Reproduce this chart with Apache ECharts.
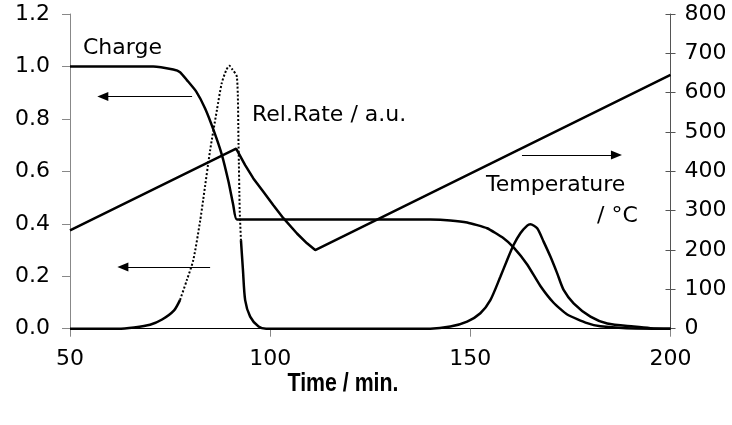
<!DOCTYPE html>
<html><head><meta charset="utf-8">
<script src="https://cdn.jsdelivr.net/npm/echarts@6.0.0/dist/echarts.min.js"></script>
<style>html,body{margin:0;padding:0;background:#fff}#c{width:732px;height:425px}</style>
</head><body><div id="c"></div>
<script>
// Time axis ticks (min.)
const timeTicks = [50, 100, 150, 200];
// Charge (left axis): [time, relative charge]
const chargeData = [[50,1.0],[70.8,1.0],[75.8,0.988],[77.5,0.978],[79.2,0.948],[81.5,0.905],[83.75,0.84],[85.8,0.76],[87.9,0.665],[89.6,0.56],[90.8,0.47],[91.7,0.416],[140,0.416],[145,0.413],[149.2,0.405],[154.2,0.383],[158.3,0.345],[160.8,0.31],[164.2,0.245],[167.5,0.163],[170.8,0.099],[174.2,0.054],[179.2,0.021],[182.5,0.009],[189,0.002],[200,0]];
// Relative rate (left axis): [time, rate]
const rateData = [[50,0],[62,0],[66,0.005],[70,0.015],[73,0.035],[76,0.07],[77.5,0.11],[79.2,0.186],[80.8,0.262],[82.5,0.41],[83.3,0.495],[85,0.68],[86.7,0.834],[87.9,0.936],[89,0.985],[89.8,1.003],[90.5,0.99],[91.7,0.96],[92.1,0.7],[92.4,0.45],[92.7,0.338],[93.2,0.224],[93.75,0.109],[95,0.046],[97.1,0.008],[99,0],[140,0],[145,0.008],[149.2,0.027],[152.5,0.059],[155,0.109],[157.5,0.198],[159.2,0.262],[160.8,0.319],[162.5,0.364],[164.2,0.393],[165,0.398],[166.7,0.383],[168.3,0.332],[170,0.275],[171.7,0.211],[173.3,0.148],[175.8,0.097],[180,0.046],[184.2,0.02],[190.8,0.008],[195,0.002],[200,0]];
// Temperature (right axis): [time, °C]
const tempData = [[50,250],[91.5,458],[93.75,416],[95.8,382],[98.3,348],[100.8,314],[103.3,281],[106.7,242],[109.2,217],[111.25,200],[200,645]];
// Time window in which the rate curve is drawn dotted
const rateDottedRange = [77.5, 92.7];
// Annotation arrows: [from, to] in (time, left-axis value)
const arrowCharge = [[80.5,0.885],[58.2,0.885]];
const arrowRate = [[85,0.235],[63.2,0.235]];
const arrowTemp = [[162.9,0.662],[186.5,0.662]];
// Label texts
const labels = { charge: 'Charge', rate: 'Rel.Rate / a.u.', temp1: 'Temperature', temp2: '/ °C', xTitle: 'Time / min.' };

const FONT = 'DejaVu Sans';
const rateDotted = rateData.filter(p => p[0] >= rateDottedRange[0] && p[0] <= rateDottedRange[1]);
const rateSolid = rateData.map(p => (p[0] > rateDottedRange[0] && p[0] < rateDottedRange[1]) ? [p[0], '-'] : p);
const arrow = (a) => [{coord: a[0], symbol: 'none'}, {coord: a[1], symbol: 'triangle'}];

const chart = echarts.init(document.getElementById('c'), null, {renderer: 'canvas'});
chart.setOption({
  animation: false,
  backgroundColor: '#fff',
  grid: {left: 70, right: 61.5, top: 14, bottom: 96.3, containLabel: false},
  xAxis: [
    {type: 'value', min: timeTicks[0], max: timeTicks[timeTicks.length-1], interval: 50, position: 'bottom',
     axisLine: {show: true, lineStyle: {color: '#888', width: 1}},
     axisTick: {show: true, length: 8, lineStyle: {color: '#888'}},
     axisLabel: {fontFamily: FONT, fontSize: 22, color: '#000', margin: 20},
     splitLine: {show: false}},
    {type: 'value', min: timeTicks[0], max: timeTicks[timeTicks.length-1], position: 'top',
     axisLine: {show: true, lineStyle: {color: '#000', width: 1}},
     axisTick: {show: false}, axisLabel: {show: false}, splitLine: {show: false}}
  ],
  yAxis: [
    {type: 'value', min: 0, max: 1.2, interval: 0.2, position: 'left',
     axisLine: {show: true, lineStyle: {color: '#888'}},
     axisTick: {show: true, length: 8, lineStyle: {color: '#888'}},
     axisLabel: {formatter: v => v.toFixed(1), fontFamily: FONT, fontSize: 22, color: '#000', margin: 20},
     splitLine: {show: false}},
    {type: 'value', min: 0, max: 800, interval: 100, position: 'right',
     axisLine: {show: true, lineStyle: {color: '#555'}},
     axisTick: {show: true, length: 5, lineStyle: {color: '#555'}},
     axisLabel: {fontFamily: FONT, fontSize: 22, color: '#000', margin: 14},
     splitLine: {show: false}},
    {type: 'value', min: 0, max: 800, interval: 100, position: 'right',
     axisLine: {show: false},
     axisTick: {show: true, inside: true, length: 5, lineStyle: {color: '#555'}},
     axisLabel: {show: false}, splitLine: {show: false}}
  ],
  series: [
    {name: 'Charge', type: 'line', data: chargeData, symbol: 'none', z: 4,
     smooth: 0.15,
     lineStyle: {color: '#000', width: 2.5},
     markLine: {silent: true, symbol: ['none', 'triangle'], symbolSize: [9, 11],
       lineStyle: {color: '#000', width: 1, type: 'solid'}, label: {show: false},
       emphasis: {disabled: true},
       data: [arrow(arrowCharge), arrow(arrowRate), arrow(arrowTemp)]}},
    {name: 'RateDotted', type: 'line', data: rateDotted, symbol: 'none', z: 3,
     smooth: 0.25,
     lineStyle: {color: '#000', width: 2, type: [2, 2]}},
    {name: 'Rate', type: 'line', data: rateSolid, symbol: 'none', z: 3, connectNulls: false,
     smooth: 0.25,
     lineStyle: {color: '#000', width: 2.5}},
    {name: 'Temperature', type: 'line', yAxisIndex: 1, data: tempData, symbol: 'none', z: 4,
     lineStyle: {color: '#000', width: 2.5}}
  ],
  graphic: [
    {type: 'text', x: 83, y: 48, style: {text: labels.charge, fontFamily: FONT, fontSize: 22, fill: '#000', verticalAlign: 'middle'}},
    {type: 'text', x: 252, y: 115.5, style: {text: labels.rate, fontFamily: FONT, fontSize: 22, fill: '#000', verticalAlign: 'middle'}},
    {type: 'text', x: 486, y: 185, style: {text: labels.temp1, fontFamily: FONT, fontSize: 22, fill: '#000', verticalAlign: 'middle'}},
    {type: 'text', x: 597, y: 216, style: {text: labels.temp2, fontFamily: FONT, fontSize: 22, fill: '#000', verticalAlign: 'middle'}},
    {type: 'text', x: 343, y: 384, scaleX: 0.82, style: {text: labels.xTitle, fontFamily: "'Liberation Sans', Arial, sans-serif", fontWeight: 'bold', fontSize: 26, fill: '#000', align: 'center', verticalAlign: 'middle'}}
  ]
});
</script></body></html>
